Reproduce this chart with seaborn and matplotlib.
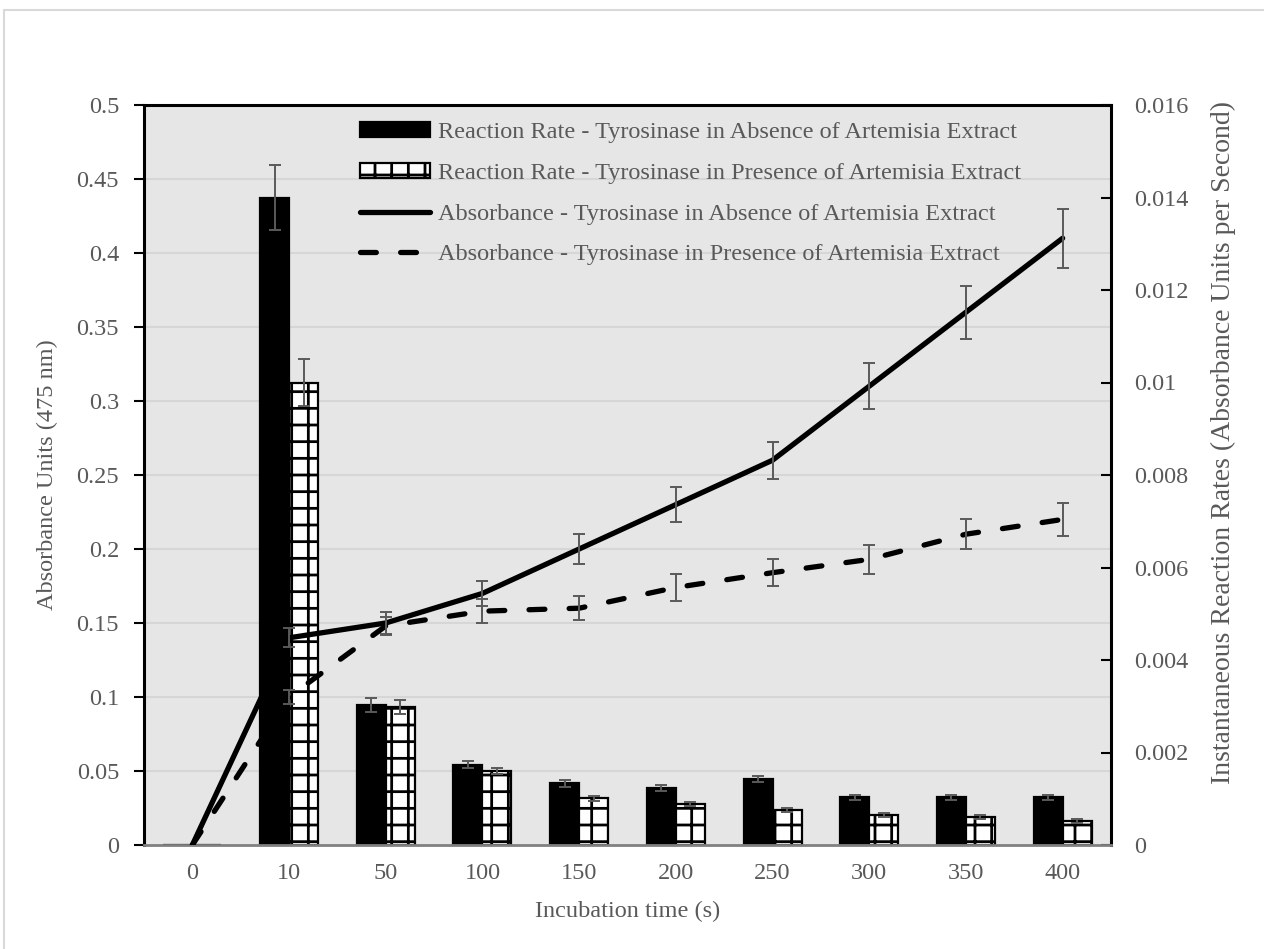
import numpy as np
import pandas as pd
import matplotlib
matplotlib.use("Agg")
import matplotlib.pyplot as plt
import seaborn as sns
from matplotlib.patches import Patch, Rectangle
from matplotlib.lines import Line2D

# ---- data -------------------------------------------------------------
times = ["0", "10", "50", "100", "150", "200", "250", "300", "350", "400"]

# absorbance at 475 nm (left axis)
abs_absent = [0, 0.14, 0.15, 0.17, 0.20, 0.23, 0.26, 0.31, 0.36, 0.41]
abs_absent_err = [np.nan, 0.0065, 0.0075, 0.0085, 0.010, 0.012, 0.0125, 0.0155, 0.018, 0.020]
abs_present = [0, 0.10, 0.148, 0.158, 0.16, 0.174, 0.184, 0.193, 0.21, 0.22]
abs_present_err = [np.nan, 0.0047, 0.006, 0.008, 0.008, 0.009, 0.009, 0.010, 0.010, 0.011]

# instantaneous reaction rates (right axis)
rate_absent = [0, 0.0140, 0.00303, 0.00174, 0.00133, 0.00123, 0.00143, 0.00103, 0.00103, 0.00103]
rate_absent_err = [np.nan, 0.0007, 0.00015, 0.00008, 0.00007, 0.00007, 0.00007, 0.00006, 0.00006, 0.00006]
rate_present = [0, 0.0100, 0.00298, 0.0016, 0.00101, 0.00089, 0.00075, 0.00065, 0.00061, 0.00052]
rate_present_err = [np.nan, 0.0005, 0.00015, 0.00007, 0.00005, 0.00005, 0.00004, 0.00004, 0.00004, 0.00004]

series_labels = [
    "Reaction Rate - Tyrosinase in Absence of Artemisia Extract",
    "Reaction Rate - Tyrosinase in Presence of Artemisia Extract",
    "Absorbance - Tyrosinase in Absence of Artemisia Extract",
    "Absorbance - Tyrosinase in Presence of Artemisia Extract",
]

left_ticks = [0, 0.05, 0.1, 0.15, 0.2, 0.25, 0.3, 0.35, 0.4, 0.45, 0.5]
left_tick_labels = ["0", "0.05", "0.1", "0.15", "0.2", "0.25", "0.3", "0.35", "0.4", "0.45", "0.5"]
right_ticks = [0, 0.002, 0.004, 0.006, 0.008, 0.010, 0.012, 0.014, 0.016]
right_tick_labels = ["0", "0.002", "0.004", "0.006", "0.008", "0.01", "0.012", "0.014", "0.016"]

# ---- style ------------------------------------------------------------
sns.set_theme(style="white")
plt.rcParams["font.family"] = ["Liberation Serif", "DejaVu Serif"]
plt.rcParams["hatch.linewidth"] = 2.0
plt.rcParams["hatch.color"] = "black"

TEXT = "#595959"
ERR = "#5a5a5a"
FS = 17.5
LW = 3.8
DASH = (0, (3.0, 4.6))

W, H = 1264, 949
fig = plt.figure(figsize=(W / 100, H / 100), dpi=100)
x0, x1, y0, y1 = 144, 1111, 105, 845
ax = fig.add_axes([x0 / W, 1 - y1 / H, (x1 - x0) / W, (y1 - y0) / H])
ax.set_facecolor("#e6e6e6")
ax2 = ax.twinx()

# light frame around the whole chart
fig.patches.append(Rectangle((4 / W, -0.02), 1.1, 1 - 10 / H + 0.02,
                             transform=fig.transFigure, fill=False,
                             edgecolor="#d9d9d9", lw=1.5))

# ---- bars (right axis) ------------------------------------------------
df_rates = pd.DataFrame({
    "time": times * 2,
    "rate": rate_absent + rate_present,
    "series": [series_labels[0]] * len(times) + [series_labels[1]] * len(times),
})
sns.barplot(data=df_rates, x="time", y="rate", hue="series", order=times,
            hue_order=series_labels[:2], palette=["black", "white"],
            saturation=1, width=0.6, gap=0, dodge=True, errorbar=None,
            legend=False, edgecolor="black", linewidth=1.6, ax=ax, zorder=2)

rmax = right_ticks[-1]
lmax = left_ticks[-1]
for t in left_ticks[1:-1]:
    ax.axhline(t / lmax * rmax, color="#d6d6d6", lw=1.5, zorder=0.5)

bars = [p for p in ax.patches]
black_bars = [p for p in bars if p.get_facecolor()[0] < 0.5]
white_bars = [p for p in bars if p.get_facecolor()[0] >= 0.5]
for p in white_bars:
    p.set_hatch("+")

for group, errs in ((black_bars, rate_absent_err), (white_bars, rate_present_err)):
    group = sorted(group, key=lambda p: p.get_x())
    xc = [p.get_x() + p.get_width() / 2 for p in group]
    hv = [p.get_height() for p in group]
    ax.errorbar(xc, hv, yerr=errs, fmt="none", ecolor=ERR, elinewidth=1.4,
                capsize=4.5, capthick=1.4, zorder=3)

ax.set_ylim(0, rmax)
ax.set_xlim(-0.5, len(times) - 0.5)
ax.yaxis.tick_right()
ax.yaxis.set_label_position("right")
ax.set_yticks(right_ticks)
ax.set_yticklabels(right_tick_labels)
ax.tick_params(axis="y", which="both", direction="in", length=7, width=1.5,
               color="black", pad=17, labelsize=FS, labelcolor=TEXT,
               right=True, left=False, labelright=True, labelleft=False)
ax.tick_params(axis="x", length=0, pad=13, labelsize=FS, labelcolor=TEXT)
for s in ax.spines.values():
    s.set_visible(False)

ax.set_xlabel("Incubation time (s)", fontsize=FS, color=TEXT)
ax.xaxis.set_label_coords(0.5, (y1 - 901) / (y1 - y0))
ax.set_ylabel("Instantaneous Reaction Rates (Absorbance Units per Second)",
              fontsize=20, color=TEXT)
ax.yaxis.set_label_coords((1223 - x0) / (x1 - x0), (y1 - 442) / (y1 - y0))
ax.yaxis.label.set_verticalalignment("center")

# ---- lines (left axis) ------------------------------------------------
sns.lineplot(x=times, y=abs_absent, ax=ax2, sort=False, errorbar=None,
             color="black", linewidth=LW, solid_capstyle="round", zorder=4)
sns.lineplot(x=times, y=abs_present, ax=ax2, sort=False, errorbar=None,
             color="black", linewidth=LW, linestyle=DASH,
             dash_capstyle="round", zorder=4)
ax2.errorbar(times, abs_absent, yerr=abs_absent_err, fmt="none", ecolor=ERR,
             elinewidth=1.4, capsize=4.5, capthick=1.4, zorder=5)
ax2.errorbar(times, abs_present, yerr=abs_present_err, fmt="none", ecolor=ERR,
             elinewidth=1.4, capsize=4.5, capthick=1.4, zorder=5)

ax2.set_ylim(0, lmax)
ax2.set_xlim(-0.5, len(times) - 0.5)
ax2.yaxis.tick_left()
ax2.yaxis.set_label_position("left")
ax2.set_yticks(left_ticks)
ax2.set_yticklabels(left_tick_labels)
ax2.tick_params(axis="y", direction="out", length=7, width=1.5, color="black",
                pad=11, labelsize=FS, labelcolor=TEXT, left=True, right=False,
                labelleft=True, labelright=False)
ax2.set_ylabel("Absorbance Units (475 nm)", fontsize=FS, color=TEXT)
ax2.yaxis.set_label_coords((47 - x0) / (x1 - x0), 0.5)
ax2.yaxis.label.set_verticalalignment("center")

for side in ("left", "top", "right"):
    ax2.spines[side].set_color("black")
    ax2.spines[side].set_linewidth(2.2)
ax2.spines["bottom"].set_color("#808080")
ax2.spines["bottom"].set_linewidth(2.0)

# ---- legend -----------------------------------------------------------
handles = [
    Patch(facecolor="black", edgecolor="black", lw=1.6),
    Patch(facecolor="white", edgecolor="black", hatch="+", lw=1.6),
    Line2D([], [], color="black", lw=LW, solid_capstyle="round"),
    Line2D([], [], color="black", lw=LW, linestyle=DASH, dash_capstyle="round"),
]
ax2.legend(handles, series_labels, loc="upper left",
           bbox_to_anchor=(360 / W, 1 - 122 / H), bbox_transform=fig.transFigure,
           frameon=False, fontsize=FS, handlelength=2.9, handleheight=0.6,
           handletextpad=0.3, labelspacing=0.8, borderpad=0, borderaxespad=0,
           labelcolor=TEXT)

fig.savefig("out.png", dpi=100)
